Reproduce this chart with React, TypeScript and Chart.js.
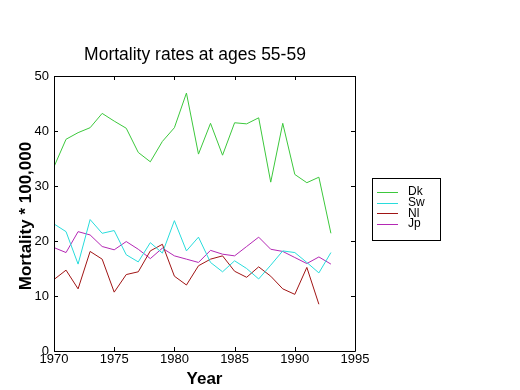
import React, { useEffect, useRef } from "react";
import { Chart, registerables } from "chart.js";

Chart.register(...registerables);

const years = [1970, 1971, 1972, 1973, 1974, 1975, 1976, 1977, 1978, 1979, 1980, 1981, 1982, 1983, 1984, 1985, 1986, 1987, 1988, 1989, 1990, 1991, 1992, 1993];
const dk = [33.5, 38.5, 39.7, 40.6, 43.2, 41.8, 40.5, 36.1, 34.4, 38.1, 40.6, 46.9, 35.8, 41.4, 35.6, 41.5, 41.3, 42.4, 30.7, 41.4, 32.1, 30.6, 31.6, 21.4];
const sw = [23.1, 21.7, 15.8, 23.9, 21.4, 21.9, 17.5, 16.2, 19.7, 17.8, 23.7, 18.2, 20.7, 16.1, 14.4, 16.4, 15.0, 13.1, 15.6, 18.2, 17.9, 16.1, 14.2, 17.9];
const nl = [13.0, 14.7, 11.3, 18.1, 16.7, 10.7, 13.9, 14.4, 18.2, 19.4, 13.6, 12.0, 15.5, 16.7, 17.3, 14.5, 13.4, 15.3, 13.6, 11.3, 10.3, 15.2, 8.5];
const jp = [18.8, 17.9, 21.7, 21.1, 19.0, 18.4, 19.9, 18.5, 16.8, 18.7, 17.3, 16.7, 16.1, 18.3, 17.6, 17.3, 19.0, 20.7, 18.5, 18.1, 17.0, 15.9, 17.1, 15.8];

const seriesNames = ["Dk", "Sw", "Nl", "Jp"];
const seriesValues = [dk, sw, nl, jp];
const seriesColors = ["rgb(60,200,60)", "rgb(40,220,220)", "rgb(160,20,20)", "rgb(180,40,180)"];

const titleText = "Mortality rates at ages 55-59";
const xTitle = "Year";
const yTitle = "Mortality * 100,000";

const FONT = "'Liberation Sans', Arial, sans-serif";

const decorPlugin = {
  id: "decor",
  afterDraw(chart: any) {
    const ctx = chart.ctx;
    const a = chart.chartArea;
    const xs = chart.scales.x;
    const ys = chart.scales.y;
    ctx.save();
    ctx.strokeStyle = "#000";
    ctx.lineWidth = 1;
    ctx.beginPath();
    ctx.rect(Math.round(a.left) + 0.5, Math.round(a.top) + 0.5, Math.round(a.right - a.left), Math.round(a.bottom - a.top));
    ctx.stroke();
    const tl = 4;
    ctx.beginPath();
    xs.ticks.forEach((t: any) => {
      const px = Math.round(xs.getPixelForValue(t.value)) + 0.5;
      ctx.moveTo(px, a.bottom);
      ctx.lineTo(px, a.bottom - tl);
      ctx.moveTo(px, a.top);
      ctx.lineTo(px, a.top + tl);
    });
    ys.ticks.forEach((t: any) => {
      const py = Math.round(ys.getPixelForValue(t.value)) + 0.5;
      ctx.moveTo(a.left, py);
      ctx.lineTo(a.left + tl, py);
      ctx.moveTo(a.right, py);
      ctx.lineTo(a.right - tl, py);
    });
    ctx.stroke();

    // titles
    ctx.fillStyle = "#000";
    ctx.textAlign = "center";
    ctx.textBaseline = "middle";
    ctx.font = `17.5px ${FONT}`;
    ctx.fillText(titleText, 195, 55);
    ctx.font = `bold 17px ${FONT}`;
    ctx.fillText(xTitle, (a.left + a.right) / 2, 379);
    ctx.save();
    ctx.translate(26, 216);
    ctx.rotate(-Math.PI / 2);
    ctx.fillText(yTitle, 0, 0);
    ctx.restore();

    // legend
    const lx = 372.5, ly = 178.5, lw = 68, lh = 62;
    ctx.fillStyle = "#fff";
    ctx.fillRect(lx, ly, lw, lh);
    ctx.strokeStyle = "#000";
    ctx.strokeRect(lx, ly, lw, lh);
    ctx.font = `12px ${FONT}`;
    ctx.textAlign = "left";
    seriesNames.forEach((n, i) => {
      const y = 192 + i * 10.7;
      ctx.strokeStyle = seriesColors[i];
      ctx.beginPath();
      ctx.moveTo(377, Math.round(y) + 0.5);
      ctx.lineTo(398, Math.round(y) + 0.5);
      ctx.stroke();
      ctx.fillStyle = "#000";
      ctx.fillText(n, 408, y);
    });
    ctx.restore();
  },
};

export default function App() {
  const ref = useRef<HTMLCanvasElement | null>(null);
  useEffect(() => {
    if (!ref.current) return;
    const chart = new Chart(ref.current, {
      type: "line",
      data: {
        datasets: seriesNames.map((name, i) => ({
          label: name,
          data: seriesValues[i].map((v, j) => ({ x: years[j], y: v })),
          borderColor: seriesColors[i],
          backgroundColor: seriesColors[i],
          borderWidth: 1,
          pointRadius: 0,
          tension: 0,
          fill: false,
        })),
      },
      options: {
        animation: false,
        responsive: false,
        maintainAspectRatio: false,
        layout: { padding: { left: 0, top: 76, right: 165, bottom: 0 } },
        plugins: { legend: { display: false }, title: { display: false }, tooltip: { enabled: false } },
        scales: {
          x: {
            type: "linear",
            min: 1970,
            max: 1995,
            afterFit: (s: any) => { s.height = 39; },
            ticks: {
              stepSize: 5,
              padding: 1,
              color: "#000",
              font: { family: FONT, size: 13 },
              callback: (v: any) => String(v),
              maxRotation: 0,
            },
            grid: { display: false, drawTicks: false },
            border: { display: false },
          },
          y: {
            min: 0,
            max: 50,
            afterFit: (s: any) => { s.width = 54; },
            ticks: {
              stepSize: 10,
              padding: 5,
              color: "#000",
              font: { family: FONT, size: 13 },
            },
            grid: { display: false, drawTicks: false },
            border: { display: false },
          },
        },
      },
      plugins: [decorPlugin],
    });
    return () => chart.destroy();
  }, []);
  return (
    <div style={{ position: "absolute", left: 0, top: 0, width: 520, height: 390, background: "#fff" }}>
      <canvas ref={ref} width={520} height={390} style={{ width: 520, height: 390, display: "block" }} />
    </div>
  );
}
